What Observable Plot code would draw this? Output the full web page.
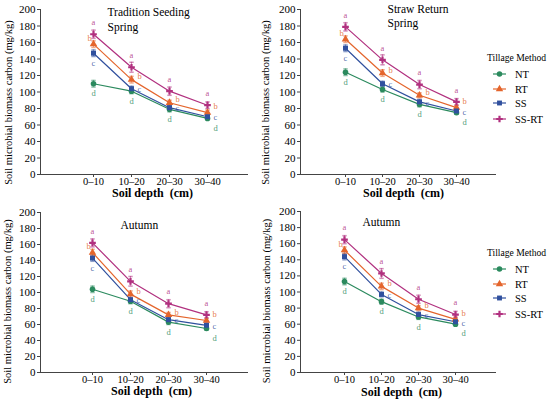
<!DOCTYPE html>
<html><head><meta charset="utf-8">
<script src="https://cdn.jsdelivr.net/npm/d3@7"></script>
<script src="https://cdn.jsdelivr.net/npm/@observablehq/plot@0.6"></script>
<style>
body{margin:0;background:#fff;}
#c{position:relative;width:550px;height:404px;overflow:hidden;font-family:"Liberation Serif","Times New Roman",serif;}
.p{position:absolute;}
.p svg{background:transparent !important;overflow:visible;}
</style></head><body><div id="c"></div>
<script>
const depths = ["0–10", "10–20", "20–30", "30–40"];
const methods = ["NT", "RT", "SS", "SS-RT"];
const letters = ["d", "b", "c", "a"];
const yTicks = [0, 20, 40, 60, 80, 100, 120, 140, 160, 180, 200];

// Tradition Seeding, Spring
const tsSpringNT   = [110, 101, 79, 68];
const tsSpringRT   = [158, 115, 87, 75];
const tsSpringSS   = [147, 104, 81, 70];
const tsSpringSSRT = [170, 130, 101, 84];
// Straw Return, Spring
const srSpringNT   = [124, 103, 85, 75];
const srSpringRT   = [164, 123, 96, 81];
const srSpringSS   = [153, 110, 88, 77];
const srSpringSSRT = [179, 139, 109, 88];
// Tradition Seeding, Autumn
const tsAutumnNT   = [104, 89, 63, 55];
const tsAutumnRT   = [150, 98, 72, 65];
const tsAutumnSS   = [143, 91, 66, 59];
const tsAutumnSSRT = [162, 114, 86, 72];
// Straw Return, Autumn
const srAutumnNT   = [113, 88, 69, 60];
const srAutumnRT   = [152, 107, 80, 66];
const srAutumnSS   = [144, 97, 72, 63];
const srAutumnSSRT = [165, 123, 91, 72];

// error bar half-widths (estimated)
const errNT   = [4, 3, 3, 2];
const errRT   = [4, 4, 3, 3];
const errSS   = [4, 3, 3, 2];
const errSSRT = [5, 6, 5, 4];
const errs = [errNT, errRT, errSS, errSSRT];

const colors = ["#2b8a5e", "#e4652c", "#30509e", "#b1307f"];
const symbols = ["circle", "triangle", "square", "cross"];
const font = "'Liberation Serif', 'Times New Roman', serif";

const cap = {draw(ctx, size) { const r = Math.sqrt(size / Math.PI); ctx.moveTo(-r, 0); ctx.lineTo(r, 0); }};

function build(series) {
  const data = [];
  methods.forEach((m, i) => depths.forEach((d, j) => data.push({
    method: m, depth: d, value: series[i][j], err: errs[i][j], letter: letters[i], j
  })));
  return data;
}

function letterPos(d) {
  if (d.method === "SS-RT") return "above";
  if (d.j === 0) return d.method === "RT" ? "leftup" : "below";
  if (d.j === 3) return d.method === "RT" ? "r_up" : d.method === "SS" ? "r_mid" : "r_down";
  if (d.method === "RT") return "r_up2";
  if (d.method === "SS") return "r_mid";
  return "below";
}

function panel(cfg) {
  const data = build(cfg.series);
  const L = (pos, opts) => Plot.text(data.filter(d => letterPos(d) === pos), {
    x: "depth", y: "value", text: "letter", fill: "method", fillOpacity: 0.85, fontSize: 8.5, fontFamily: font, ...opts
  });
  const titleMarks = cfg.titles.map(t => Plot.text([t.text], {
    frameAnchor: "top-left", text: d => d, dx: t.dx, dy: t.dy, textAnchor: "start",
    fontSize: 11.5, fontFamily: font, fill: "#000"
  }));
  const chart = Plot.plot({
    width: cfg.width, height: cfg.height,
    marginTop: cfg.mt, marginBottom: cfg.mb, marginLeft: cfg.ml, marginRight: cfg.mr,
    style: {fontFamily: font, color: "#000", background: "transparent", overflow: "visible"},
    x: {type: "point", domain: depths, range: cfg.xr},
    y: {domain: [0, 200]},
    color: {domain: methods, range: colors},
    symbol: {domain: methods, range: symbols},
    marks: [
      Plot.frame({anchor: "left", stroke: "#444"}),
      Plot.frame({anchor: "bottom", stroke: "#444"}),
      Plot.axisY({ticks: yTicks, tickSize: 3, tickPadding: 2, label: null, fontSize: 11, fontFamily: font, stroke: "#444", fill: "#000"}),
      Plot.axisX({tickSize: 3, tickPadding: 0, label: null, fontSize: 10.5, fontFamily: font, stroke: "#444", fill: "#000"}),
      Plot.text(["Soil microbial biomass carbon (mg/kg)"], {frameAnchor: "left", text: d => d, rotate: -90,
        textAnchor: "middle", dx: cfg.ytDx, dy: cfg.ytDy, fontSize: 10.5, fontFamily: font, fill: "#000"}),
      Plot.text(["Soil depth  (cm)"], {frameAnchor: "bottom", text: d => d, dx: cfg.xtDx, dy: cfg.xtDy,
        fontSize: 12, fontWeight: "bold", fontFamily: font, fill: "#000"}),
      ...titleMarks,
      Plot.ruleX(data, {x: "depth", y1: d => d.value - d.err, y2: d => d.value + d.err, stroke: "method", strokeOpacity: 0.55, strokeWidth: 1}),
      Plot.dot(data, {x: "depth", y: d => d.value + d.err, symbol: cap, r: 2.2, stroke: "method", strokeOpacity: 0.55, fill: "none"}),
      Plot.dot(data, {x: "depth", y: d => d.value - d.err, symbol: cap, r: 2.2, stroke: "method", strokeOpacity: 0.55, fill: "none"}),
      Plot.line(data, {x: "depth", y: "value", z: "method", stroke: "method", strokeWidth: 1.2}),
      Plot.dot(data, {x: "depth", y: "value", symbol: "method", fill: "method", r: 2.8}),
      L("above", {dy: -12}),
      L("leftup", {dx: -4, dy: -6}),
      L("r_up2", {dx: 8, dy: -3}),
      L("r_up", {dx: 8, dy: -6}),
      L("r_mid", {dx: 8, dy: 1}),
      L("r_down", {dx: 8, dy: 9.5}),
      L("below", {dy: 10})
    ]
  });
  const div = document.createElement("div");
  div.className = "p";
  div.style.left = cfg.left + "px";
  div.style.top = cfg.top + "px";
  div.appendChild(chart);
  document.getElementById("c").appendChild(div);
}

panel({series: [tsSpringNT, tsSpringRT, tsSpringSS, tsSpringSSRT], left: 0, top: 0, width: 260, height: 200,
  mt: 9, mb: 26, ml: 40, mr: 13, xr: [73, 226], ytDx: -32, ytDy: 10.5, xtDx: 8.5, xtDy: 22,
  titles: [{text: "Tradition Seeding", dx: 67, dy: -1.5}, {text: "Spring", dx: 67, dy: 13.5}]});
panel({series: [srSpringNT, srSpringRT, srSpringSS, srSpringSSRT], left: 255, top: 0, width: 245, height: 200,
  mt: 9, mb: 26, ml: 45, mr: 5, xr: [71, 219], ytDx: -35, ytDy: 10.5, xtDx: 5.5, xtDy: 22,
  titles: [{text: "Straw Return", dx: 87, dy: -4.5}, {text: "Spring", dx: 87, dy: 9.5}]});
panel({series: [tsAutumnNT, tsAutumnRT, tsAutumnSS, tsAutumnSSRT], left: 0, top: 200, width: 260, height: 204,
  mt: 12, mb: 32, ml: 40, mr: 13, xr: [72, 225], ytDx: -32.5, ytDy: 9, xtDx: 7.5, xtDy: 22,
  titles: [{text: "Autumn", dx: 80, dy: 8.5}]});
panel({series: [srAutumnNT, srAutumnRT, srAutumnSS, srAutumnSSRT], left: 255, top: 200, width: 245, height: 204,
  mt: 11, mb: 32, ml: 45, mr: 5, xr: [70, 219], ytDx: -34, ytDy: 9, xtDx: 3.5, xtDy: 23,
  titles: [{text: "Autumn", dx: 62, dy: 6.5}]});

// legends
function legend(top) {
  const svg = d3.select("#c").append("svg")
    .attr("class", "p").style("left", "480px").style("top", top + "px")
    .attr("width", 70).attr("height", 75).style("overflow", "visible");
  svg.append("text").attr("x", 7).attr("y", 7).attr("dy", "0.35em")
    .attr("font-family", font).attr("font-size", 10)
    .attr("textLength", 59).attr("lengthAdjust", "spacingAndGlyphs").text("Tillage Method");
  const rowY = [24, 39, 53, 69];
  const shapes = [d3.symbolCircle, d3.symbolTriangle, d3.symbolSquare, d3.symbolCross];
  methods.forEach((m, i) => {
    const g = svg.append("g").attr("transform", `translate(0,${rowY[i]})`);
    g.append("line").attr("x1", 13).attr("x2", 26).attr("y1", 0).attr("y2", 0)
      .attr("stroke", colors[i]).attr("stroke-width", 1.2);
    g.append("path").attr("transform", "translate(19.5,0)")
      .attr("d", d3.symbol(shapes[i], 24)()).attr("fill", colors[i]);
    g.append("text").attr("x", 35).attr("y", 0).attr("dy", "0.35em")
      .attr("font-family", font).attr("font-size", 10.5).text(m);
  });
}
legend(50);
legend(245);
</script>
</body></html>
